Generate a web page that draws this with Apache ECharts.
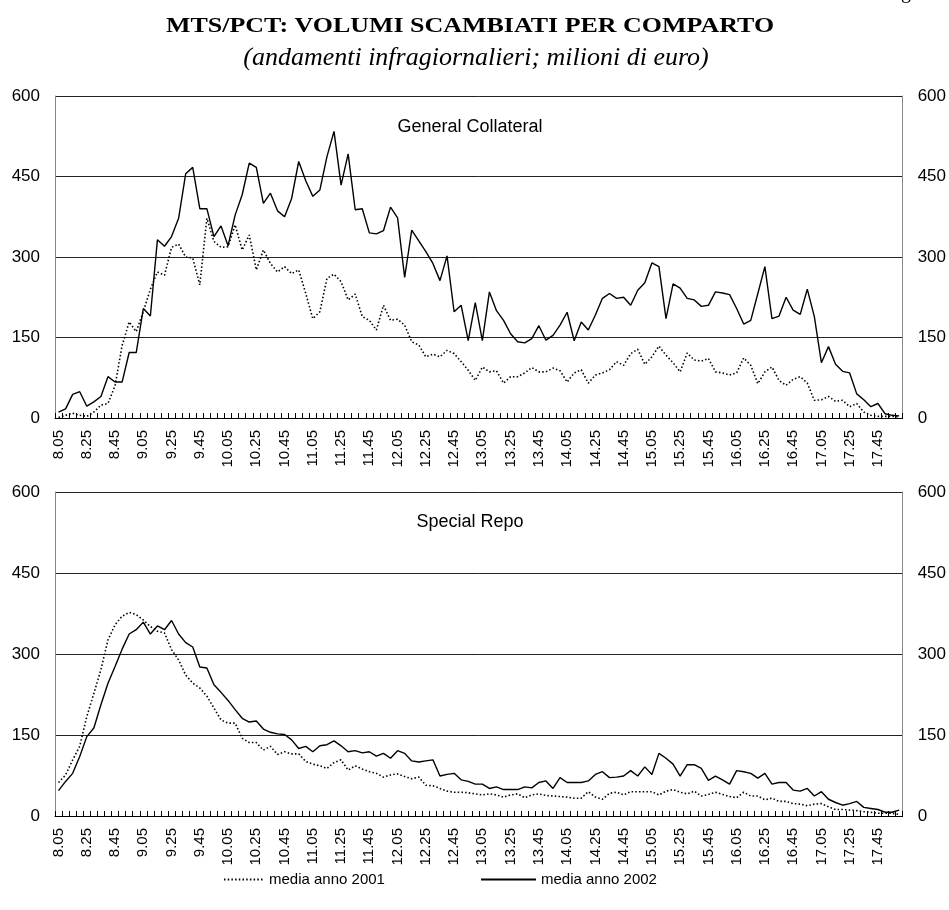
<html lang="it">
<head>
	<meta charset="UTF-8">
	<title>MTS/PCT</title>
	<style>
		body { margin: 0; background: #fff; }
		#chart { width: 949px; height: 910px; }
	</style>
</head>
<body>
	<div id="chart"></div>
	<script src="https://cdn.jsdelivr.net/npm/echarts@6/dist/echarts.min.js"></script>
	<script type="text/javascript">
		// orari (intervalli di 5 minuti)
		var orari = [
			'8.05', '8.10', '8.15', '8.20', '8.25', '8.30', '8.35', '8.40', '8.45', '8.50', '8.55', '9.00',
			'9.05', '9.10', '9.15', '9.20', '9.25', '9.30', '9.35', '9.40', '9.45', '9.50', '9.55', '10.00',
			'10.05', '10.10', '10.15', '10.20', '10.25', '10.30', '10.35', '10.40', '10.45', '10.50', '10.55', '11.00',
			'11.05', '11.10', '11.15', '11.20', '11.25', '11.30', '11.35', '11.40', '11.45', '11.50', '11.55', '12.00',
			'12.05', '12.10', '12.15', '12.20', '12.25', '12.30', '12.35', '12.40', '12.45', '12.50', '12.55', '13.00',
			'13.05', '13.10', '13.15', '13.20', '13.25', '13.30', '13.35', '13.40', '13.45', '13.50', '13.55', '14.00',
			'14.05', '14.10', '14.15', '14.20', '14.25', '14.30', '14.35', '14.40', '14.45', '14.50', '14.55', '15.00',
			'15.05', '15.10', '15.15', '15.20', '15.25', '15.30', '15.35', '15.40', '15.45', '15.50', '15.55', '16.00',
			'16.05', '16.10', '16.15', '16.20', '16.25', '16.30', '16.35', '16.40', '16.45', '16.50', '16.55', '17.00',
			'17.05', '17.10', '17.15', '17.20', '17.25', '17.30', '17.35', '17.40', '17.45', '17.50', '17.55', '18.00'
		]
		var yTicks = [0, 150, 300, 450, 600]

		// General Collateral
		var gc2001 = [1, 5, 9, 5, 3, 11, 24, 27, 60, 135,
			179, 161, 198, 240, 272, 266, 318, 324, 300, 298,
			248, 372, 329, 318, 319, 360, 313, 341, 276, 313,
			288, 272, 282, 269, 276, 232, 185, 198, 260, 268,
			254, 220, 231, 189, 182, 164, 210, 182, 184, 173,
			142, 136, 114, 119, 114, 126, 120, 105, 89, 70,
			95, 86, 88, 65, 77, 77, 84, 94, 86, 86,
			93, 88, 67, 84, 90, 65, 80, 84, 90, 105,
			98, 120, 128, 100, 114, 134, 117, 103, 86, 121,
			108, 106, 111, 86, 84, 80, 84, 112, 98, 64,
			86, 95, 70, 61, 72, 77, 65, 33, 34, 40,
			31, 33, 21, 27, 11, 5, 3, 3, 3, 2]
		var gc2002 = [11, 17, 44, 49, 22, 30, 40, 77, 67, 67,
			122, 122, 204, 190, 332, 320, 338, 372, 455, 467,
			390, 390, 338, 358, 321, 378, 416, 475, 467, 400,
			419, 386, 375, 409, 478, 442, 413, 425, 487, 534,
			434, 492, 388, 390, 345, 343, 349, 393, 373, 262,
			350, 330, 310, 288, 256, 302, 198, 210, 144, 215,
			144, 235, 200, 182, 157, 142, 140, 148, 172, 145,
			154, 173, 197, 144, 179, 164, 192, 223, 232, 223,
			225, 210, 238, 252, 289, 282, 185, 250, 242, 223,
			220, 208, 210, 235, 233, 230, 204, 175, 182, 232,
			282, 185, 190, 225, 201, 193, 240, 189, 103, 133,
			100, 87, 84, 45, 34, 21, 27, 8, 5, 4]

		// Special Repo
		var sr2001 = [62, 76, 104, 129, 184, 227, 271, 326, 354, 370,
			377, 373, 363, 351, 342, 339, 308, 289, 261, 246,
			237, 222, 200, 178, 172, 172, 144, 136, 136, 122,
			129, 114, 119, 115, 115, 101, 96, 93, 88, 99,
			104, 85, 93, 87, 82, 79, 72, 76, 78, 73,
			69, 72, 57, 56, 51, 46, 44, 44, 43, 41,
			39, 41, 39, 35, 39, 41, 34, 39, 41, 38,
			37, 36, 35, 33, 33, 45, 35, 31, 42, 44,
			39, 45, 45, 45, 45, 39, 46, 49, 44, 41,
			46, 37, 40, 44, 40, 36, 34, 44, 37, 37,
			30, 33, 27, 27, 23, 22, 19, 22, 23, 17,
			12, 12, 11, 10, 8, 7, 5, 5, 5, 3]
		var sr2002 = [47, 64, 79, 110, 147, 163, 206, 246, 277, 309,
			337, 345, 359, 337, 352, 345, 362, 337, 321, 313,
			276, 274, 243, 229, 214, 197, 181, 174, 176, 161,
			155, 152, 151, 141, 125, 129, 119, 130, 132, 139,
			130, 119, 121, 117, 119, 111, 116, 107, 121, 116,
			102, 100, 102, 104, 74, 77, 79, 67, 64, 59,
			59, 51, 54, 49, 49, 49, 54, 52, 62, 65,
			51, 71, 62, 62, 62, 65, 77, 82, 71, 72,
			74, 84, 74, 91, 77, 116, 107, 96, 74, 95,
			95, 88, 66, 74, 67, 59, 84, 82, 79, 70,
			79, 59, 62, 62, 48, 46, 51, 37, 45, 31,
			25, 20, 23, 27, 16, 14, 12, 7, 7, 11]

		var sans = 'Liberation Sans, Arial, sans-serif'
		var serif = 'Liberation Serif, Times New Roman, serif'

		function xAx(g) {
			return {
				type: 'category',
				gridIndex: g,
				data: orari,
				boundaryGap: true,
				axisLine: { lineStyle: { color: '#000', width: 1 } },
				axisTick: { show: true, inside: true, interval: 0, length: 5, lineStyle: { color: '#000' } },
				axisLabel: { interval: 3, rotate: 90, margin: 12, fontFamily: sans, fontSize: 15, color: '#000' }
			}
		}
		function yAx(g, side) {
			return {
				type: 'value',
				gridIndex: g,
				position: side,
				min: yTicks[0],
				max: yTicks[yTicks.length - 1],
				interval: 150,
				axisLine: { show: true, lineStyle: { color: '#888' } },
				axisTick: { show: false },
				axisLabel: { margin: 15, fontFamily: sans, fontSize: 17, color: '#000' },
				splitLine: { show: side === 'left', lineStyle: { color: '#222', width: 1 } }
			}
		}
		function serie(name, data, ax, dotted) {
			return {
				name: name,
				type: 'line',
				xAxisIndex: ax,
				yAxisIndex: ax * 2,
				data: data,
				symbol: 'none',
				lineStyle: dotted ? { color: '#000', width: 1.6, type: [1.5, 2.2] } : { color: '#000', width: 1.4 },
				itemStyle: { color: '#000' }
			}
		}

		var legendText = { fontFamily: sans, fontSize: 15, color: '#000' }

		var option = {
			animation: false,
			backgroundColor: '#fff',
			grid: [
				{ left: 55, top: 96, width: 848, height: 322 },
				{ left: 55, top: 492, width: 848, height: 324 }
			],
			xAxis: [xAx(0), xAx(1)],
			yAxis: [yAx(0, 'left'), yAx(0, 'right'), yAx(1, 'left'), yAx(1, 'right')],
			legend: [
				{ data: ['media anno 2001'], left: 223, top: 872, padding: 0, itemWidth: 40, itemHeight: 14, itemStyle: { opacity: 0 }, textStyle: legendText },
				{ data: ['media anno 2002'], left: 480, top: 872, padding: 0, itemWidth: 55, itemHeight: 14, itemStyle: { opacity: 0 }, textStyle: legendText }
			],
			graphic: [
				{ type: 'text', x: 901, y: -17, style: { text: 'g', font: '20px ' + serif, fill: '#000' } },
				{ type: 'text', x: 470, y: 26, scaleX: 1.18, style: { text: 'MTS/PCT: VOLUMI SCAMBIATI PER COMPARTO', font: 'bold 22px ' + serif, fill: '#000', textAlign: 'center', textVerticalAlign: 'middle' } },
				{ type: 'text', x: 476, y: 58, style: { text: '(andamenti infragiornalieri; milioni di euro)', font: 'italic 26px ' + serif, fill: '#000', textAlign: 'center', textVerticalAlign: 'middle' } },
				{ type: 'text', x: 470, y: 127, style: { text: 'General Collateral', font: '18px ' + sans, fill: '#000', textAlign: 'center', textVerticalAlign: 'middle' } },
				{ type: 'text', x: 470, y: 522, style: { text: 'Special Repo', font: '18px ' + sans, fill: '#000', textAlign: 'center', textVerticalAlign: 'middle' } }
			],
			series: [
				serie('media anno 2001', gc2001, 0, true),
				serie('media anno 2002', gc2002, 0, false),
				serie('media anno 2001', sr2001, 1, true),
				serie('media anno 2002', sr2002, 1, false)
			]
		}

		var myChart = echarts.init(document.getElementById('chart'))
		myChart.setOption(option)
	</script>
</body>
</html>
